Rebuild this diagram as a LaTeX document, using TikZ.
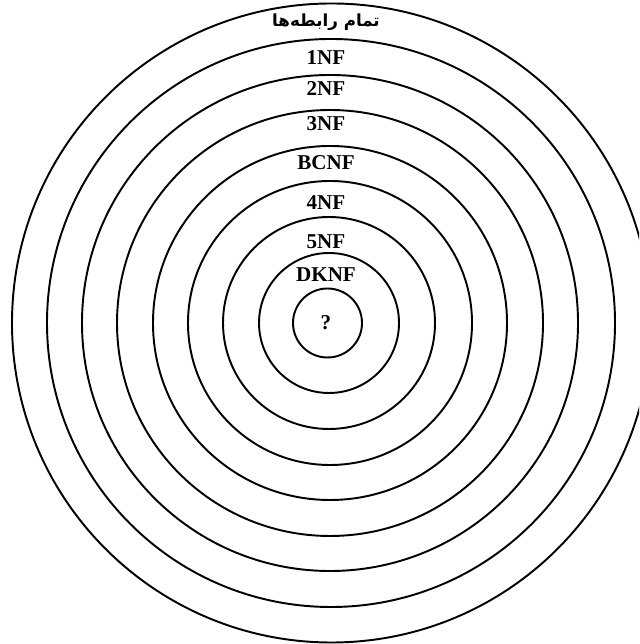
\documentclass[tikz,border=0pt]{standalone}
\usepackage{fontspec}
\setmainfont{Liberation Serif}
\newfontfamily\arabicfont[Script=Arabic]{DejaVu Sans}
\TeXXeTstate=1
\usepackage{tikz}

\begin{document}
\begin{tikzpicture}[x=0.02cm,y=0.02cm,
  ring/.style={line width=1.1pt},
  lbl/.style={font=\fontsize{12}{14}\selectfont\bfseries,inner sep=0pt}]

\useasboundingbox (0,0) rectangle (639,644);
\clip (0,0) rectangle (639,644);

% ---------------- rings ----------------
\foreach \cx/\r in {327.5/34.5, 329/70, 329/106, 330/142, 330/177,
                    330/213, 330/248, 331/284, 331.5/319.5}
  \draw[ring] (\cx,321) circle (\r);

% ---------------- labels ----------------
\node[lbl] (all) at (326,622) {\arabicfont\fontsize{9.5}{12}\selectfont\beginR تمام رابطه‌ها\endR};
\node[lbl] (nf1) at (326,586) {1NF};
\node[lbl] (nf2) at (326,555) {2NF};
\node[lbl] (nf3) at (326,520) {3NF};
\node[lbl] (bcnf) at (326,481) {BCNF};
\node[lbl] (nf4) at (326,441) {4NF};
\node[lbl] (nf5) at (326,402) {5NF};
\node[lbl] (dknf) at (326,369) {DKNF};
\node[lbl] (q) at (326,321) {?};

\end{tikzpicture}
\end{document}
